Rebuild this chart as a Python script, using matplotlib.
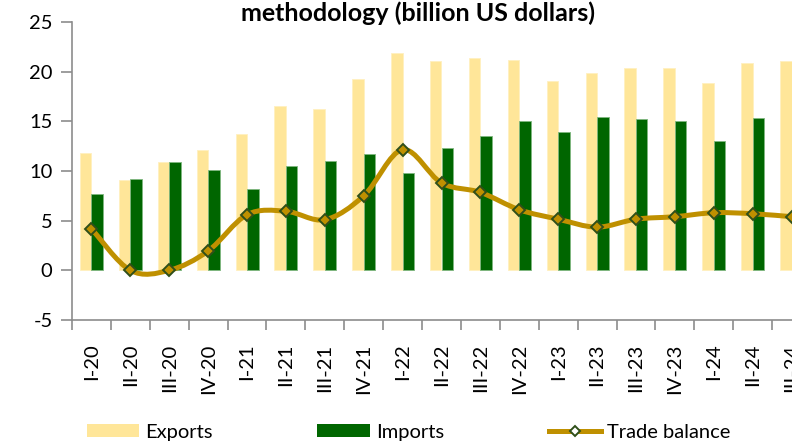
"""Quarterly exports, imports and trade balance (billion US dollars).

Grouped bars for exports/imports with a smoothed trade-balance line on top,
styled after an Excel chart (cropped on the top and right edges).
"""
import numpy as np
import matplotlib
matplotlib.use('Agg')
import matplotlib.pyplot as plt
from matplotlib.path import Path
from matplotlib.patches import PathPatch, Patch
from matplotlib.lines import Line2D

# ── Data ──────────────────────────────────────────────────────────
quarters = ['I-20', 'II-20', 'III-20', 'IV-20',
            'I-21', 'II-21', 'III-21', 'IV-21',
            'I-22', 'II-22', 'III-22', 'IV-22',
            'I-23', 'II-23', 'III-23', 'IV-23',
            'I-24', 'II-24', 'III-24']
exports = [11.8, 9.1, 10.9, 12.1,
           13.7, 16.5, 16.2, 19.3,
           21.9, 21.1, 21.4, 21.2,
           19.1, 19.9, 20.4, 20.4,
           18.85, 20.9, 21.1]
imports = [7.65, 9.15, 10.9, 10.15,
           8.15, 10.5, 11.05, 11.75,
           9.75, 12.3, 13.5, 15.05,
           13.9, 15.45, 15.25, 15.0,
           13.0, 15.3, 15.7]
balance = [4.2, 0.0, 0.0, 1.95,
           5.6, 5.95, 5.1, 7.5,
           12.15, 8.8, 7.85, 6.1,
           5.15, 4.35, 5.15, 5.4,
           5.8, 5.7, 5.4]

title = 'methodology (billion US dollars)'

# ── Style ─────────────────────────────────────────────────────────
plt.rcParams['font.family'] = ['Lato', 'DejaVu Sans']
plt.rcParams['axes.unicode_minus'] = False
c_exp = '#FFE699'
c_imp = '#006600'
c_bal = '#BF9000'
c_mark_edge = '#2F4F1A'
c_axis = '#8C8C8C'


def smooth_path(xs, ys, t=1.0 / 6.0):
    """Excel-like smoothed line as cubic Bezier segments through the points."""
    pts = np.column_stack([xs, ys]).astype(float)
    n = len(pts)
    verts = [pts[0]]
    codes = [Path.MOVETO]
    for i in range(n - 1):
        p_prev = pts[max(i - 1, 0)]
        p0, p1 = pts[i], pts[i + 1]
        p_next = pts[min(i + 2, n - 1)]
        c1 = p0 + (p1 - p_prev) * t
        c2 = p1 - (p_next - p0) * t
        verts += [c1, c2, p1]
        codes += [Path.CURVE4] * 3
    return Path(verts, codes)


fig = plt.figure(figsize=(7.92, 4.44), dpi=100)
# axes run past the right edge of the picture, as in the cropped original
ax = fig.add_axes([72 / 792, 1 - 320 / 444, 739 / 792, 298 / 444])

x = np.arange(len(quarters))
w = 0.295
ax.bar(x - w / 2, exports, width=w, color=c_exp, edgecolor='#FFF0C0',
       linewidth=0.6, zorder=2)
ax.bar(x + w / 2, imports, width=w, color=c_imp, edgecolor='#7FB77F',
       linewidth=0.6, zorder=2)

ax.add_patch(PathPatch(smooth_path(x, balance), facecolor='none',
                       edgecolor=c_bal, linewidth=3.6, zorder=3,
                       capstyle='round', joinstyle='round'))
ax.plot(x, balance, linestyle='none', marker='D', ms=6.4,
        markerfacecolor=c_bal, markeredgecolor=c_mark_edge,
        markeredgewidth=1.4, zorder=4)

# ── Axes formatting ───────────────────────────────────────────────
ax.set_xlim(-0.5, len(quarters) - 0.5)
ax.set_ylim(-5, 25)
ax.set_yticks(np.arange(-5, 26, 5))
ax.tick_params(axis='y', direction='out', length=8, width=1.2,
               color=c_axis, labelsize=14.5, pad=6)

for side in ('top', 'right', 'bottom'):
    ax.spines[side].set_visible(False)
ax.spines['left'].set_color(c_axis)
ax.spines['left'].set_linewidth(1.2)

# category labels below the plot area
ax.set_xticks(x, quarters, rotation=90, fontsize=14.5)
ax.tick_params(axis='x', length=0, pad=17)

# zero line with tick marks between categories
zero_ax = ax.secondary_xaxis(0)
zero_ax.set_xticks(np.arange(-0.5, len(quarters), 1.0), labels=[])
zero_ax.tick_params(direction='out', length=7, width=1.2, color=c_axis)
zero_ax.spines['bottom'].set_color(c_axis)
zero_ax.spines['bottom'].set_linewidth(1.2)

fig.text(0.528, 1.0 - 1 / 444, title, ha='center', va='top',
         fontsize=18, fontweight='bold')

handles = [Patch(facecolor=c_exp, edgecolor='none'),
           Patch(facecolor=c_imp, edgecolor='none'),
           Line2D([], [], color=c_bal, linewidth=3.6, marker='D', ms=5,
                  markerfacecolor='white', markeredgecolor=c_mark_edge,
                  markeredgewidth=1.4)]
fig.legend(handles, ['Exports', 'Imports', 'Trade balance'],
           loc='center', bbox_to_anchor=(0.516, 1 - 432 / 444), ncol=3,
           frameon=False, fontsize=14.5, handlelength=2.6, handleheight=0.62,
           handletextpad=0.3, columnspacing=5.2)

fig.savefig('out.png', dpi=100)
plt.close(fig)
